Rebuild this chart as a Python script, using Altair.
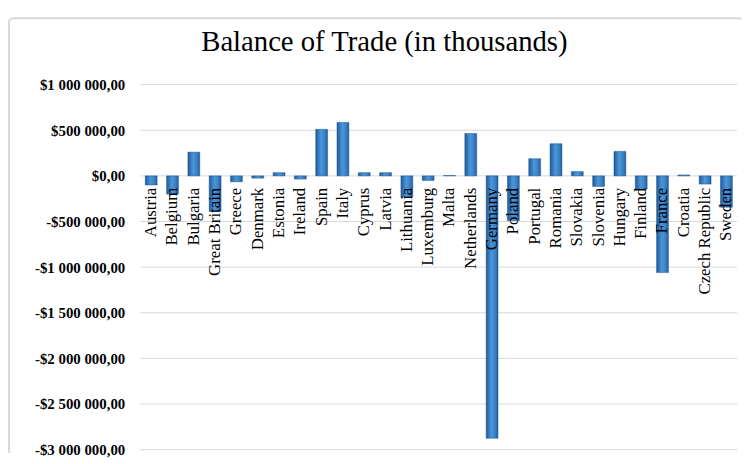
import altair as alt
import pandas as pd

countries = ["Austria", "Belgium", "Bulgaria", "Great Britain", "Greece", "Denmark", "Estonia",
             "Ireland", "Spain", "Italy", "Cyprus", "Latvia", "Lithuania", "Luxemburg", "Malta",
             "Netherlands", "Germany", "Poland", "Portugal", "Romania", "Slovakia", "Slovenia",
             "Hungary", "Finland", "France", "Croatia", "Czech Republic", "Sweden"]
balance = [-100000, -200000, 260000, -390000, -65000, -25000, 35000,
           -35000, 510000, 585000, 35000, 35000, -232000, -50000, 4000,
           464000, -2875000, -490000, 188000, 352000, 47000, -116000,
           268000, -145000, -1060000, 10000, -90000, -344000]
y_ticks = [-3000000, -2500000, -2000000, -1500000, -1000000, -500000, 0, 500000, 1000000]

df = pd.DataFrame({"country": countries, "value": balance})
grid_df = pd.DataFrame({"value": y_ticks})

FONT = "Liberation Serif"

ylabel = ("(datum.value < 0 ? '-' : '') + '$' + "
          "replace(replace(format(abs(datum.value), ',.2f'), regexp(',', 'g'), ' '), '.', ',')")

y_scale = alt.Scale(domain=[-3000000, 1000000], nice=False)
y_axis = alt.Axis(values=y_ticks, labelExpr=ylabel, title=None, domain=False, ticks=False,
                  grid=False, zindex=1, labelPadding=16, labelFont=FONT, labelFontSize=15,
                  labelFontWeight="bold", labelColor="#000000")

x_enc = alt.X("country:N", sort=countries,
              scale=alt.Scale(paddingInner=0, paddingOuter=0),
              axis=None)

one = alt.Chart(df).transform_filter("datum.country == 'Austria'")

frame = one.mark_rect(
    fillOpacity=0, stroke="#d9d9d9", strokeWidth=2, cornerRadius=4
).encode(
    x=alt.value(-133), x2=alt.value(609), y=alt.value(-67), y2=alt.value(374)
)
cover_right = one.mark_rect(color="white").encode(
    x=alt.value(607.5), x2=alt.value(614), y=alt.value(-72), y2=alt.value(382)
)
cover_bottom = one.mark_rect(color="white").encode(
    x=alt.value(-140), x2=alt.value(614), y=alt.value(372.5), y2=alt.value(382)
)

grid = alt.Chart(grid_df).mark_rule(color="#d9d9d9", strokeWidth=1).encode(
    y=alt.Y("value:Q", scale=y_scale, axis=y_axis)
)

bars = alt.Chart(df).mark_bar(
    size=12,
    color={"x1": 0, "x2": 1, "y1": 0, "y2": 0, "gradient": "linear",
           "stops": [{"offset": 0, "color": "#1f5a98"},
                     {"offset": 0.45, "color": "#4b96da"},
                     {"offset": 0.75, "color": "#3a82c6"},
                     {"offset": 1, "color": "#235e9d"}]},
    stroke="#1d5690", strokeWidth=0.5
).encode(
    x=x_enc,
    y=alt.Y("value:Q", scale=y_scale, axis=y_axis),
    y2=alt.datum(0)
)

labels = alt.Chart(df).mark_text(
    angle=270, align="right", baseline="middle", dx=-12,
    font=FONT, fontSize=17, color="#000000"
).encode(
    x=x_enc,
    y=alt.datum(0),
    text="country:N"
)

chart = alt.layer(grid, frame, cover_right, cover_bottom, bars, labels).properties(
    width=603, height=369,
    autosize=alt.AutoSizeParams(type="none"),
    padding={"left": 134, "top": 75, "right": 7, "bottom": 6},
    title=alt.TitleParams("Balance of Trade (in thousands)", font=FONT, fontSize=29,
                          fontWeight="normal", color="#000000", anchor="middle",
                          baseline="alphabetic", dx=-55, offset=-67),
    background="white"
).configure_view(stroke=None)

chart.save("out.html", embed_options={"renderer": "svg", "actions": False})
